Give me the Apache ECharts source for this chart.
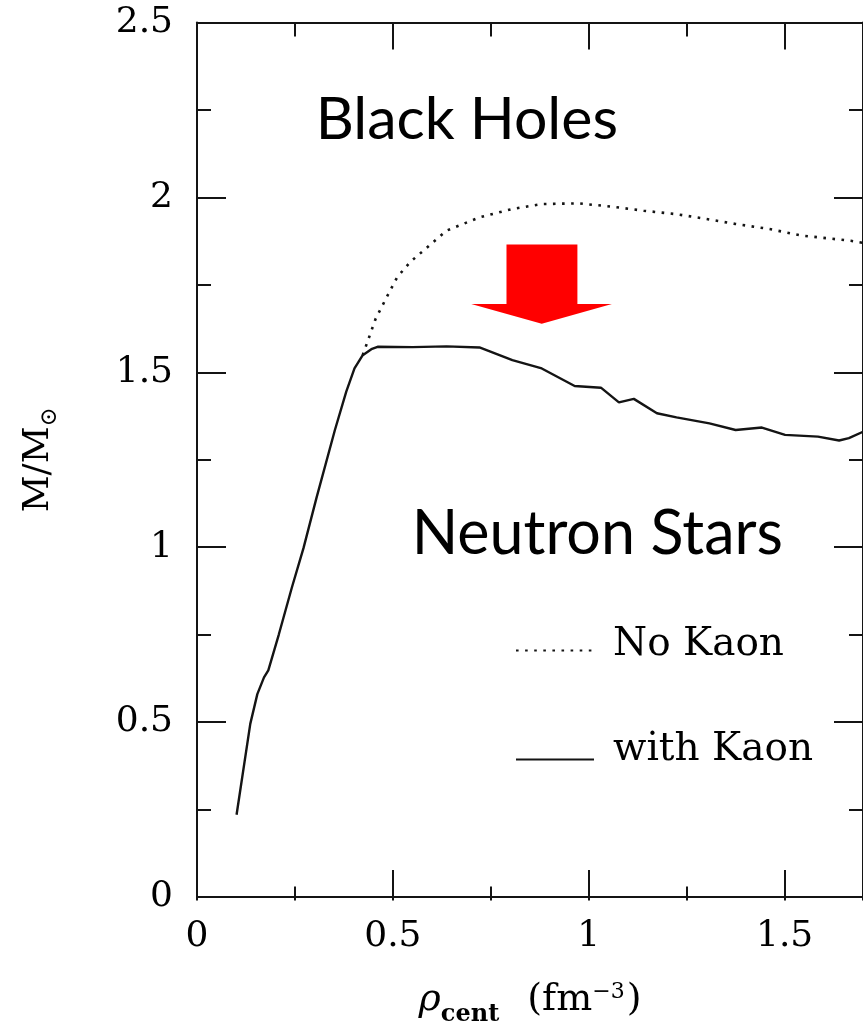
<!DOCTYPE html>
<html>
<head>
<meta charset="utf-8">
<title>Neutron star maximum mass with and without kaon condensation</title>
<script src="https://cdn.jsdelivr.net/npm/echarts@6/dist/echarts.min.js"></script>
<style>
  html, body { margin: 0; padding: 0; background: #fff; }
  #chart { width: 863px; height: 1032px; }
</style>
</head>
<body>
<div id="chart"></div>
<script>
// Central density (fm^-3) and stellar mass (solar masses), with kaon condensation
const rhoKaon = [0.101, 0.136, 0.154, 0.171, 0.182, 0.209, 0.242, 0.272, 0.305, 0.352,
                 0.381, 0.402, 0.423, 0.445, 0.461, 0.55, 0.637, 0.721, 0.805, 0.880,
                 0.964, 1.031, 1.077, 1.115, 1.174, 1.224, 1.308, 1.375, 1.442, 1.501,
                 1.585, 1.639, 1.664, 1.70];
const massKaon = [0.235, 0.495, 0.58, 0.628, 0.648, 0.751, 0.884, 0.998, 1.141, 1.335,
                  1.445, 1.511, 1.549, 1.566, 1.573, 1.572, 1.574, 1.571, 1.535, 1.511,
                  1.461, 1.456, 1.414, 1.424, 1.383, 1.371, 1.354, 1.335, 1.342, 1.321,
                  1.316, 1.305, 1.312, 1.33];

// Without kaons (branch that separates above ~0.42 fm^-3)
const rhoNoKaon = [0.423, 0.456, 0.482, 0.511, 0.544, 0.578, 0.637, 0.721, 0.805, 0.880,
                   0.972, 1.056, 1.140, 1.224, 1.291, 1.375, 1.459, 1.543, 1.669, 1.70];
const massNoKaon = [1.549, 1.653, 1.710, 1.772, 1.815, 1.848, 1.905, 1.943, 1.967, 1.981,
                    1.983, 1.974, 1.962, 1.952, 1.940, 1.924, 1.910, 1.891, 1.876, 1.87];

const seriesNames = ['No Kaon', 'with Kaon'];
const regionLabels = ['Black Holes', 'Neutron Stars'];

// Axis ranges
const xMin = 0, xMax = 1.7, xMajor = 0.5, xMinor = 0.25;
const yMin = 0, yMax = 2.5, yMajor = 0.5;

// Annotation anchors in data coordinates
const regionLabelAt = [[0.303, 2.22], [0.548, 1.038]];
// Down arrow: shaft left/right, shaft top, head base, head left/right, tip
const arrowShaft = [0.790, 0.971, 1.865];
const arrowHead = [0.700, 1.059, 1.695];
const arrowTip = [0.880, 1.639];

const pair = (xs, ys) => xs.map((x, i) => [x, ys[i]]);

const serif = 'DejaVu Serif';
const ink = '#141414';
const tickFont = { fontFamily: serif, fontSize: 36, color: '#000' };

const gridBox = { left: 197, top: 22.5, width: 675.4, height: 878 };

const chart = echarts.init(document.getElementById('chart'), null, { renderer: 'canvas' });

const majorX = (pos, labels) => ({
  type: 'value', gridIndex: 0, position: pos, min: xMin, max: xMax, interval: xMajor,
  axisLine: { show: true, onZero: false, lineStyle: { color: ink, width: 2 } },
  axisTick: { show: true, inside: true, length: 27, lineStyle: { color: ink, width: 2 } },
  axisLabel: labels ? Object.assign({ show: true, margin: 22, showMaxLabel: false }, tickFont) : { show: false },
  splitLine: { show: false }
});
const minorX = (pos) => ({
  type: 'value', gridIndex: 1, position: pos, min: xMin, max: xMax, interval: xMinor,
  axisLine: { show: false },
  axisTick: { show: true, inside: true, length: 14, lineStyle: { color: ink, width: 2 } },
  axisLabel: { show: false },
  splitLine: { show: false }
});
const majorY = (pos, labels) => ({
  type: 'value', gridIndex: 0, position: pos, min: yMin, max: yMax, interval: yMajor,
  axisLine: { show: true, onZero: false, lineStyle: { color: ink, width: 2 } },
  axisTick: { show: true, inside: true, length: 29, lineStyle: { color: ink, width: 2 } },
  minorTick: { show: true, splitNumber: 2, length: 14, lineStyle: { color: ink, width: 2 } },
  axisLabel: labels ? Object.assign({ show: true, margin: 24, padding: [7, 0, 0, 0] }, tickFont) : { show: false },
  splitLine: { show: false }
});

const xTitle = Object.assign(majorX('bottom', true), {
  name: '{rho|ρ}{sub|cent}{gap|}{n|(fm}{sup|−3}{n|)}',
  nameLocation: 'middle',
  nameGap: 84,
  nameTextStyle: {
    rich: {
      rho: { fontFamily: serif, fontStyle: 'italic', fontSize: 38, color: '#000', verticalAlign: 'bottom' },
      sub: { fontFamily: serif, fontWeight: 'bold', fontSize: 24, color: '#000', verticalAlign: 'bottom', padding: [0, 0, -8, 0] },
      gap: { width: 28 },
      n: { fontFamily: serif, fontSize: 38, color: '#000', verticalAlign: 'bottom' },
      sup: { fontFamily: serif, fontSize: 22, color: '#000', verticalAlign: 'top', padding: [0, 2, 0, 0] }
    }
  }
});

const yTitle = Object.assign(majorY('left', true), {
  name: '{m|M/M}{s|⊙}',
  nameLocation: 'middle',
  nameRotate: 90,
  nameGap: 140,
  nameTextStyle: {
    rich: {
      m: { fontFamily: serif, fontSize: 36, color: '#000', verticalAlign: 'top' },
      s: { fontFamily: serif, fontSize: 23, color: '#000', verticalAlign: 'bottom', padding: [0, 0, -5, 0] }
    }
  }
});

// Each legend entry: name on the first line, an empty spacer line below it,
// so the sample line sits level with the bottom of the lettering
const legendBase = (spacer) => ({
  orient: 'vertical',
  padding: 0,
  itemWidth: 78,
  itemHeight: 14,
  selectedMode: false,
  itemStyle: { opacity: 0 },
  formatter: (name) => '{t|' + name + '}\n{g| }',
  textStyle: {
    fontFamily: serif, fontSize: 39, color: '#000',
    rich: {
      t: { fontFamily: serif, fontSize: 39, lineHeight: 44, color: '#000', padding: [0, 0, 0, 14] },
      g: { fontSize: 4, lineHeight: spacer, height: spacer }
    }
  }
});

chart.setOption({
  animation: false,
  backgroundColor: '#fff',
  color: [ink, ink],
  grid: [
    Object.assign({}, gridBox),
    Object.assign({}, gridBox)
  ],
  xAxis: [xTitle, majorX('top', false), minorX('bottom'), minorX('top')],
  yAxis: [yTitle, majorY('right', false),
          { type: 'value', gridIndex: 1, min: yMin, max: yMax, show: false }],
  legend: [
    Object.assign({ data: [seriesNames[0]], left: 515, top: 625 }, legendBase(12)),
    Object.assign({ data: [seriesNames[1]], left: 515, top: 730 }, legendBase(20))
  ],
  series: [
    {
      name: seriesNames[0], type: 'line', xAxisIndex: 0, yAxisIndex: 0,
      data: pair(rhoNoKaon, massNoKaon), showSymbol: false, symbol: 'none', clip: true,
      itemStyle: { color: ink },
      lineStyle: { color: ink, width: 2.6, type: [2.6, 6.5], cap: 'butt' }, z: 3
    },
    {
      name: seriesNames[1], type: 'line', xAxisIndex: 0, yAxisIndex: 0,
      data: pair(rhoKaon, massKaon), showSymbol: false, symbol: 'none', clip: true,
      itemStyle: { color: ink },
      lineStyle: { color: ink, width: 2.4 }, z: 4
    }
  ]
});

// Annotations placed through the chart's own coordinate conversion
const px = (p) => chart.convertToPixel({ gridIndex: 0 }, p);
const tip = px(arrowTip);
const sL = px([arrowShaft[0], arrowShaft[2]]);
const sR = px([arrowShaft[1], arrowShaft[2]]);
const hL = px([arrowHead[0], arrowHead[2]]);
const hR = px([arrowHead[1], arrowHead[2]]);
const sLb = px([arrowShaft[0], arrowHead[2]]);
const sRb = px([arrowShaft[1], arrowHead[2]]);

chart.setOption({
  graphic: [
    {
      type: 'polygon', z: 10,
      shape: { points: [sL, sR, sRb, hR, tip, hL, sLb] },
      style: { fill: '#ff0000' }
    }
  ].concat(regionLabels.map((t, i) => {
    const p = px(regionLabelAt[i]);
    return {
      type: 'text', z: 10, x: p[0], y: p[1],
      style: { text: t, font: (i === 0 ? 59 : 61) + 'px Lato', fill: '#000', textAlign: 'left', textVerticalAlign: 'middle' }
    };
  }))
});
</script>
</body>
</html>
